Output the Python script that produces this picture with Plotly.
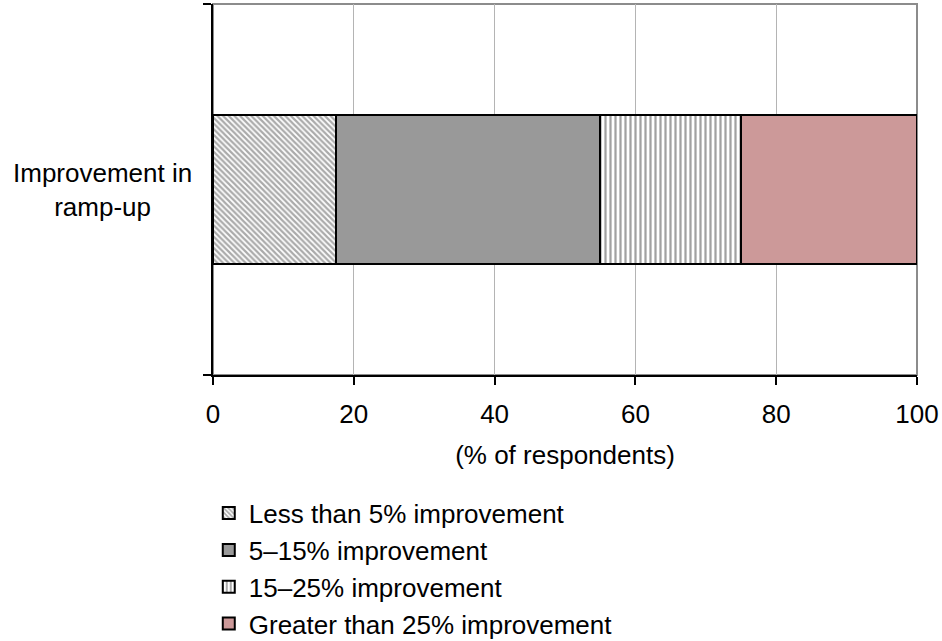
import plotly.graph_objects as go

categories = ["Improvement in ramp-up"]
series_names = [
    "Less than 5% improvement",
    "5–15% improvement",
    "15–25% improvement",
    "Greater than 25% improvement",
]
series_values = [
    [17.5],
    [37.5],
    [20.0],
    [25.0],
]
x_ticks = [0, 20, 40, 60, 80, 100]

colors = ["#ffffff", "#999999", "#ffffff", "#cc9999"]
patterns = [
    dict(shape="\\", fgcolor="#555555", bgcolor="#ffffff", size=4, solidity=0.55),
    dict(shape=""),
    dict(shape="|", fgcolor="#444444", bgcolor="#ffffff", size=5, solidity=0.45),
    dict(shape=""),
]

FONT = "Liberation Sans, Arial, sans-serif"
FS = 26

fig = go.Figure()
for i, (name, vals) in enumerate(zip(series_names, series_values)):
    fig.add_trace(go.Bar(
        y=categories, x=vals, name=name, orientation="h",
        marker=dict(color=colors[i], pattern=patterns[i],
                    line=dict(color="#000000", width=2)),
        width=0.4,
    ))

fig.update_layout(
    barmode="stack",
    width=942, height=641,
    margin=dict(l=213, r=25, t=4, b=266),
    paper_bgcolor="white", plot_bgcolor="rgba(0,0,0,0)",
    font=dict(family=FONT, size=FS, color="#000000"),
    showlegend=True,
    legend=dict(x=-0.006, xref="paper", y=0.236, yref="container",
                xanchor="left", yanchor="top",
                traceorder="normal", tracegroupgap=0,
                font=dict(size=FS), itemwidth=30,
                bgcolor="rgba(0,0,0,0)"),
    shapes=[dict(type="rect", xref="paper", yref="paper",
                 x0=0, x1=1, y0=0, y1=1,
                 line=dict(color="#8c8c8c", width=2), layer="below")],
)

fig.update_xaxes(
    range=[0, 100], tickvals=x_ticks, ticktext=[str(t) for t in x_ticks],
    showgrid=True, gridcolor="#b4b4b4", gridwidth=1,
    showline=True, linecolor="#000000", linewidth=2,
    ticks="outside", ticklen=8, tickcolor="#000000", tickwidth=1.5,
    ticklabelstandoff=7,
    zeroline=False,
    title=dict(text="(% of respondents)", standoff=18, font=dict(size=FS)),
)
fig.update_yaxes(
    range=[-0.5, 0.5], showticklabels=False, tickson="boundaries",
    showgrid=False, showline=True, linecolor="#000000", linewidth=2,
    ticks="outside", ticklen=8, tickcolor="#000000", tickwidth=1.5,
)

fig.add_annotation(
    xref="paper", yref="y", x=0, y=categories[0], xanchor="right",
    xshift=-19, text="Improvement in<br>ramp-up", showarrow=False,
    align="center", font=dict(size=FS),
)

fig.write_html("out.html",
               config={"displayModeBar": False},
               post_script="document.body.style.margin='0px';document.body.style.overflow='hidden';")
